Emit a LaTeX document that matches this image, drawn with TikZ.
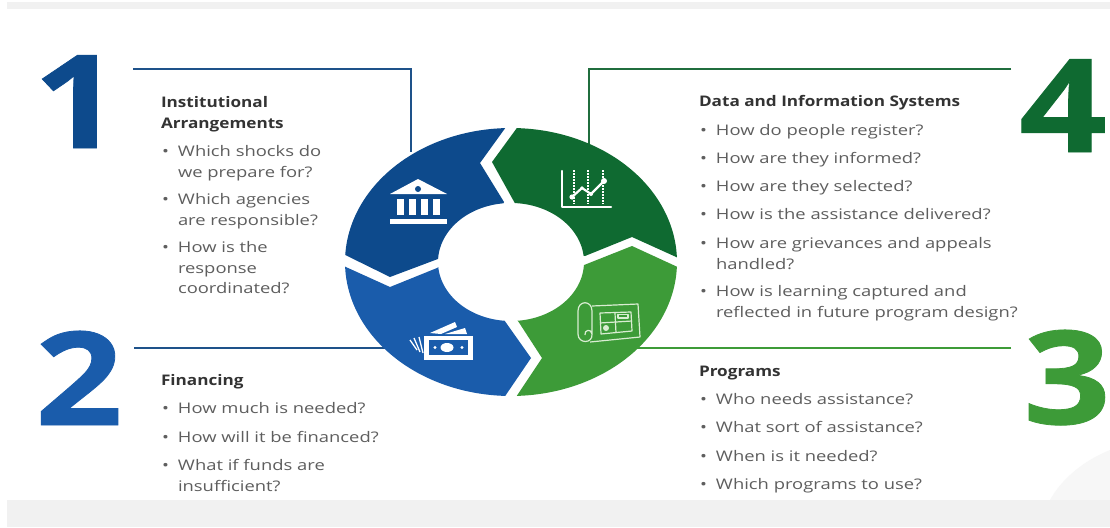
\documentclass[tikz,border=0pt]{standalone}
\usepackage{fontspec}
\setmainfont[FakeStretch=1.26,BoldFeatures={FakeStretch=1.175}]{Open Sans}
\newfontfamily\numfont[UprightFont=* Bold,FakeStretch=1.18,FakeBold=0.6]{Open Sans}
\definecolor{cA}{HTML}{0D4A8C}
\definecolor{cB}{HTML}{1A5CAB}
\definecolor{cC}{HTML}{3D9B38}
\definecolor{cD}{HTML}{0F6A31}
\definecolor{band}{HTML}{F1F1F1}
\definecolor{bodyc}{HTML}{5E5E5E}
\definecolor{headc}{HTML}{333333}
\definecolor{paleg}{HTML}{D9EDD2}
\newcommand{\bul}{\strut\makebox[16pt][l]{\textbullet}}
\newcommand{\ind}{\strut\hspace*{16pt}}
\tikzset{
  x=1pt,y=-1pt,
  ringo/.style 2 args={insert path={plot[domain=#1:#2,samples=50] ({511+166*cos(\x)},{262-134*sin(\x)})}},
  ringi/.style 2 args={insert path={-- plot[domain=#1:#2,samples=40] ({511+73*cos(\x)},{262-59*sin(\x)})}},
  itemtxt/.style={anchor=north west,inner sep=0pt,outer sep=0pt,align=left,yshift=14.3pt,text=bodyc,
    font=\fontsize{14.6}{20.4}\selectfont},
  headtxt/.style={itemtxt,text=headc,font=\fontsize{14.6}{20.4}\selectfont\bfseries},
  bignum/.style={anchor=base,inner sep=0pt,font=\fontsize{130}{130}\numfont},
  leader/.style={line width=1.5pt},
  iconline/.style={draw=white,line width=1.4pt,line cap=round,line join=round},
  planline/.style={draw=paleg,line width=1.2pt,line join=round}
}
\begin{document}
\begin{tikzpicture}
\useasboundingbox (0,0) rectangle (1110,527);
\fill[white] (0,0) rectangle (1110,527);
\fill[band] (7,2) rectangle (1110,9);
\fill[band] (7,500) rectangle (1110,527);
\fill[black!3!white] (1050,500) .. controls (1062,478) and (1085,460) .. (1110,450) -- (1110,500) -- cycle;
% numbers
\node[bignum,text=cA] (n1) at (77,148) {1};
\node[bignum,text=cB] (n2) at (79,425) {2};
\node[bignum,text=cC] (n3) at (1067,424) {3};
\node[bignum,text=cD] (n4) at (1063,152) {4};
% leaders
\coordinate (l1a) at (133,69); \coordinate (l1b) at (411,69); \coordinate (l1c) at (411,152);
\coordinate (l2a) at (134,348); \coordinate (l2b) at (390,348);
\coordinate (l3a) at (1011,348); \coordinate (l3b) at (630,348);
\coordinate (l4a) at (1011,69); \coordinate (l4b) at (589,69); \coordinate (l4c) at (589,150);
\draw[leader,draw=cA!85!gray] (l1a) -- (l1b) -- (l1c);
\draw[leader,draw=cA!85!gray] (l2a) -- (l2b);
\draw[leader,draw=cC] (l3a) -- (l3b);
\draw[leader,draw=cD!85!gray] (l4a) -- (l4b) -- (l4c);
% ring
\fill[cA] [ringo={177}{92}] -- (480,163) -- (504,202) [ringi={96}{177}] -- (390,277) -- cycle;
\fill[cD] [ringo={88}{2}] -- (632,237) -- (585,256) [ringi={6}{87}] -- (492,162) -- cycle;
\fill[cC] [ringo={-2}{-88}] -- (542,358) -- (518,321) [ringi={-85}{-3}] -- (632,246) -- cycle;
\fill[cB] [ringo={-92}{-178}] -- (390,287) -- (437,268) [ringi={-175}{-95}] -- (531,358) -- cycle;
% bank icon
\fill[white] (390,194) -- (418,179) -- (447,194) -- cycle;
\fill[cA] (418,189) circle (3);
\foreach \cx in {396.5,409,421,433} \fill[white] (\cx,199) rectangle (\cx+7,215);
\fill[white] (390,219) rectangle (447,224);
% chart icon
\draw[iconline,line width=2.2pt] (562,171) -- (562,207) -- (611,207);
\foreach \cx in {574,588,603} \draw[white,line width=1.2pt,dash pattern=on 1.5pt off 1.5pt] (\cx,170) -- (\cx,204);
\draw[iconline,line width=2.2pt] (572,197) -- (582,188) -- (591,194) -- (604,181);
\fill[white] (572,197) circle (2.6) (582,188) circle (1.8) (591,194) circle (2) (604,181) circle (3);
% money icon
\fill[white] (424,336) rectangle (473,360);
\fill[cB] (429,340) rectangle (468,355);
\fill[white] (447,347.5) ellipse (6.5 and 4.5);
\fill[white] (435,347.5) circle (1.7) (462,347.5) circle (1.7);
\fill[white] (430,333) -- (455,322) -- (457,327) -- (441,334) -- cycle;
\fill[white] (445,334) -- (465,328) -- (467,334) -- cycle;
\draw[white,line width=1.3pt] (410,340) -- (417,350) (414,338) -- (420,352) (419,337) -- (423,353);
% plan icon
\draw[planline] (592,335) -- (592,311) .. controls (592,300) and (578,300) .. (578,311) -- (578,334) .. controls (578,344) and (593,344) .. (592,334) .. controls (591,328) and (584,330) .. (585,335);
\draw[planline] (592,306) -- (638,304) -- (640,337) -- (590,342);
\draw[planline] (600,313) -- (631,312) -- (632,331) -- (601,334) -- cycle;
\draw[planline] (615,313) -- (616,333) (600,323) -- (632,321);
\draw[planline] (618,314.5) rectangle (628,318);
\fill[paleg] (606,328) circle (3);
% text: 1
\node[headtxt] (t1) at (161,108) {\strut Institutional\\\strut Arrangements};
\node[itemtxt] (t1a) at (162,157) {\bul Which shocks do\\\ind we prepare for?};
\node[itemtxt] (t1b) at (162,205) {\bul Which agencies\\\ind are responsible?};
\node[itemtxt] (t1c) at (162,253) {\bul How is the\\\ind response\\\ind coordinated?};
% text: 2
\node[headtxt] (t2) at (161,386) {\strut Financing};
\node[itemtxt] (t2a) at (162,414) {\bul How much is needed?};
\node[itemtxt] (t2b) at (162,443) {\bul How will it be financed?};
\node[itemtxt] (t2c) at (162,471) {\bul What if funds are\\\ind insufficient?};
% text: 4
\node[headtxt] (t4) at (699,107) {\strut Data and Information Systems};
\node[itemtxt] (t4a) at (700,136) {\bul How do people register?};
\node[itemtxt] (t4b) at (700,164) {\bul How are they informed?};
\node[itemtxt] (t4c) at (700,192) {\bul How are they selected?};
\node[itemtxt] (t4d) at (700,220) {\bul How is the assistance delivered?};
\node[itemtxt] (t4e) at (700,249) {\bul How are grievances and appeals\\\ind handled?};
\node[itemtxt] (t4f) at (700,297) {\bul How is learning captured and\\\ind reflected in future program design?};
% text: 3
\node[headtxt] (t3) at (699,377) {\strut Programs};
\node[itemtxt] (t3a) at (700,405) {\bul Who needs assistance?};
\node[itemtxt] (t3b) at (700,433) {\bul What sort of assistance?};
\node[itemtxt] (t3c) at (700,462) {\bul When is it needed?};
\node[itemtxt] (t3d) at (700,490) {\bul Which programs to use?};
\end{tikzpicture}
\end{document}
